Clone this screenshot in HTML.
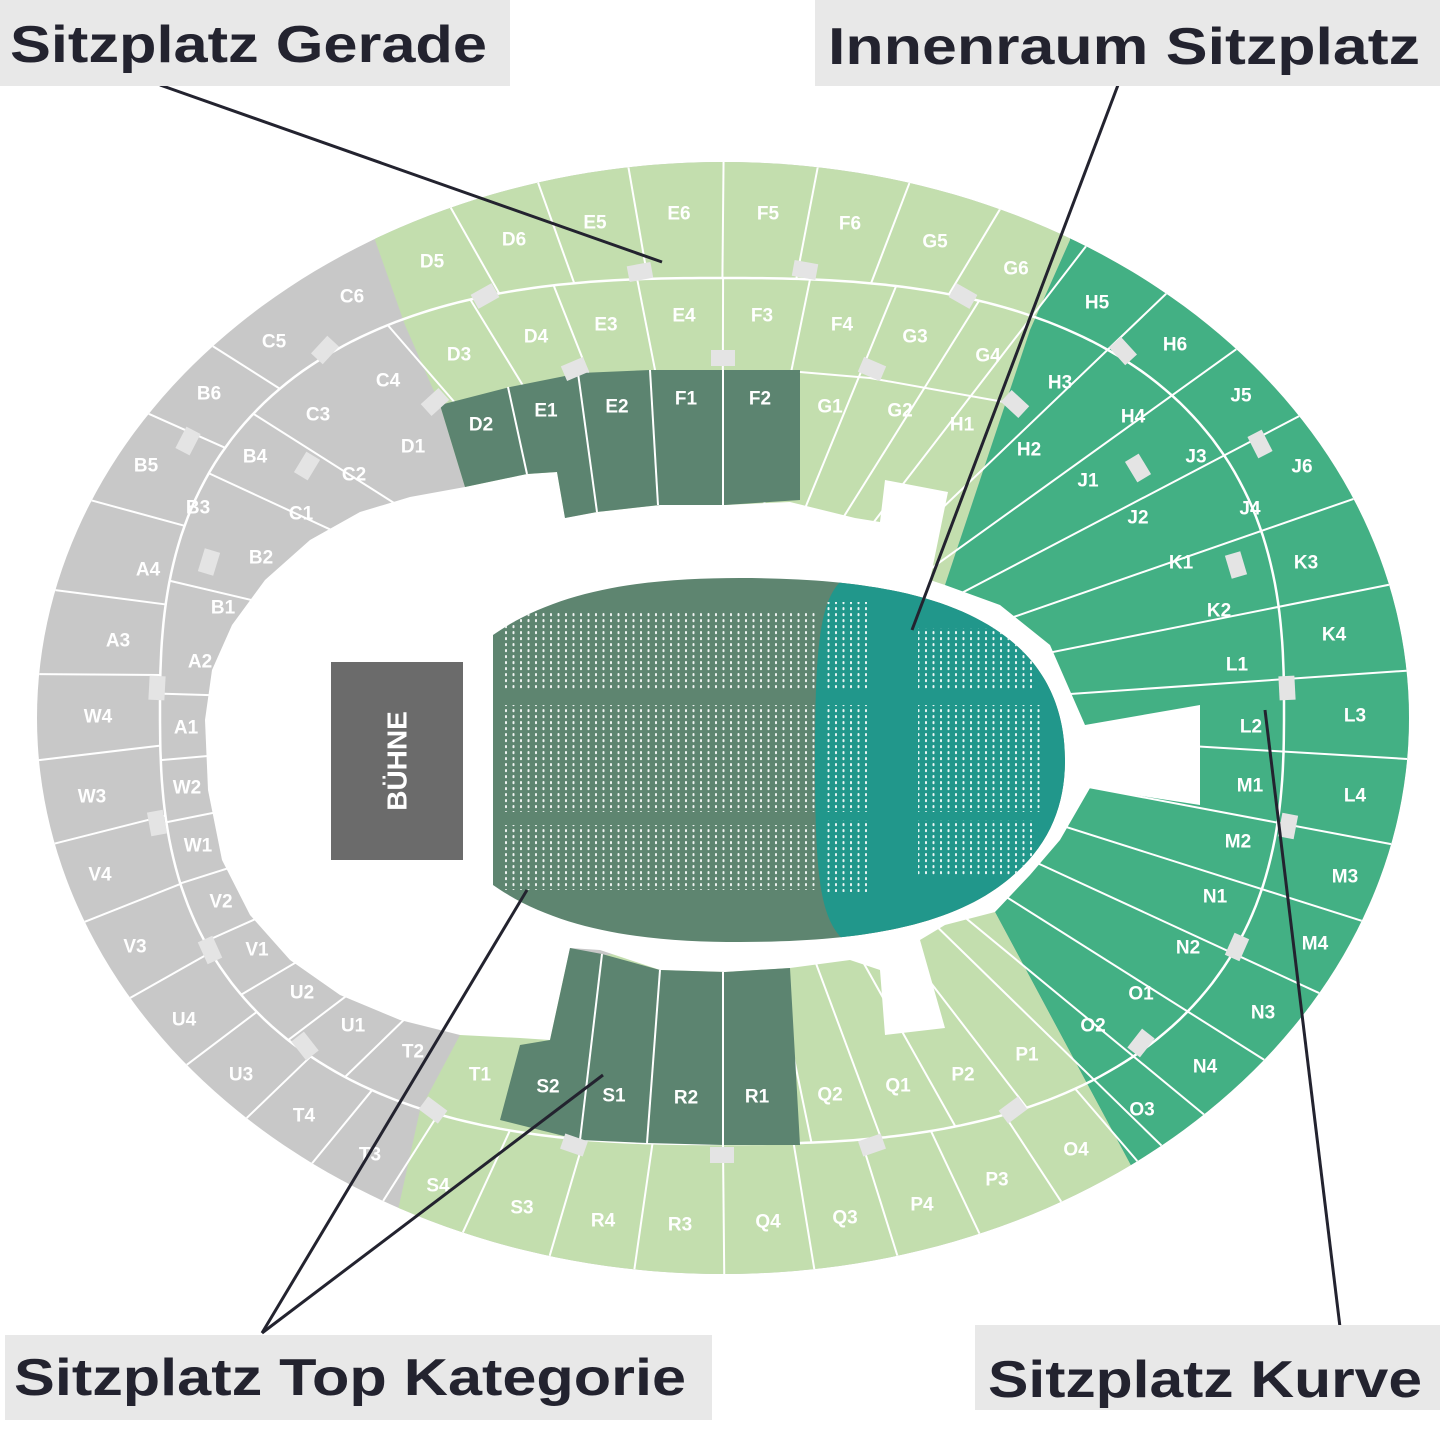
<!DOCTYPE html>
<html><head><meta charset="utf-8"><style>
html,body{margin:0;padding:0;background:#fff;width:1445px;height:1445px;overflow:hidden}
svg{display:block}
.l{font-family:"Liberation Sans",Arial,sans-serif;font-weight:bold;font-size:19px;fill:#fff;text-anchor:middle;dominant-baseline:central}
.t{font-family:"Liberation Sans",Arial,sans-serif;font-weight:bold;font-size:52px;fill:#23232f}
</style></head><body>
<svg id="s" xmlns="http://www.w3.org/2000/svg" width="1445" height="1445" viewBox="0 0 1445 1445">
<defs>
<pattern id="dots" width="7.5" height="6" patternUnits="userSpaceOnUse"><rect x="2.5" y="1" width="2" height="3.2" rx="1" fill="#fff"/></pattern>
<clipPath id="pc"><path d="M493,635 C560,588 650,578 740,578 C880,578 960,600 1010,640 C1050,672 1065,715 1065,760 C1065,805 1050,845 1010,878 C960,920 880,942 740,942 C650,942 560,932 493,885 Z"/></clipPath>
<clipPath id="oc"><ellipse cx="723" cy="718" rx="686" ry="556"/></clipPath>
</defs>
<g clip-path="url(#oc)">
<rect x="0" y="0" width="1445" height="1445" fill="#c8c8c8"/>
<polygon fill="#c3deae" points="375,240 375,0 1070,0 1070,240 1030,330 945,585 465,487 440,405 405,325"/>
<polygon fill="#43b084" points="1070,0 1500,0 1500,1500 1310,1500 1128,1160 995,912 945,585 1030,330 1070,240"/>
<polygon fill="#c3deae" points="1128,1160 995,912 560,960 460,1035 420,1110 398,1210 360,1500 1310,1500"/>
<g id="div"></g>
</g>
<polygon fill="#fff" points="205,720 212,670 232,625 265,580 310,540 360,512 410,497 465,487 527,474 557,472 565,518 597,512 660,505 725,505 790,502 855,518 880,522 885,480 948,492 930,580 945,585 1000,605 1050,645 1085,725 1200,705 1200,805 1090,788 1060,840 1030,875 995,912 945,925 920,940 945,1028 885,1035 880,970 850,960 790,968 725,972 660,970 600,950 570,948 550,1040 520,1038 460,1035 400,1020 340,995 290,960 250,915 222,860 208,790"/>
<polygon fill="#5c8470" points="440,405 510,387 580,373 650,370 800,370 800,500 725,505 660,505 597,512 565,518 557,472 527,474 465,487"/>
<g stroke="#fff" stroke-width="2">
<line x1="508" y1="387" x2="527" y2="474"/><line x1="578" y1="373" x2="597" y2="512"/><line x1="650" y1="370" x2="658" y2="505"/><line x1="723" y1="370" x2="723" y2="505"/>
</g>
<polygon fill="#5c8470" points="570,948 602,954 660,970 725,972 790,968 800,1145 723,1145 647,1143 580,1140 500,1120 520,1045 550,1040"/>
<g stroke="#fff" stroke-width="2">
<line x1="602" y1="954" x2="580" y2="1140"/><line x1="660" y1="970" x2="647" y2="1143"/><line x1="723" y1="972" x2="723" y2="1145"/>
<polyline fill="none" points="800,372 870,378 1015,404"/>
</g>
<g clip-path="url(#pc)">
<rect x="480" y="570" width="600" height="380" fill="#5e8570"/>
<path d="M850,575 C820,590 815,640 815,760 C815,880 820,925 850,945 L1100,945 L1100,575 Z" fill="#21978b"/>
<g fill="url(#dots)" opacity="0.9">
<rect x="500" y="612" width="315" height="78"/><rect x="500" y="705" width="315" height="107"/><rect x="500" y="825" width="315" height="65"/>
<rect x="822" y="602" width="48" height="88"/><rect x="822" y="705" width="48" height="107"/><rect x="822" y="820" width="48" height="72"/>
<rect x="918" y="628" width="115" height="62"/><rect x="918" y="705" width="125" height="107"/><rect x="918" y="820" width="115" height="55"/>
</g>
</g>
<rect x="331" y="662" width="132" height="198" fill="#6b6b6b"/>
<text x="397" y="761" transform="rotate(-90 397 761)" font-family="Liberation Sans, Arial, sans-serif" font-weight="bold" font-size="28" fill="#fff" text-anchor="middle" dominant-baseline="central">BÜHNE</text>
<g id="mk" fill="#e4e4e4"></g>
<g class="l">
<text x="432" y="262">D5</text><text x="514" y="240">D6</text><text x="595" y="223">E5</text><text x="679" y="214">E6</text><text x="768" y="214">F5</text><text x="850" y="224">F6</text><text x="935" y="242">G5</text><text x="1016" y="269">G6</text>
<text x="459" y="355">D3</text><text x="536" y="337">D4</text><text x="606" y="325">E3</text><text x="684" y="316">E4</text><text x="762" y="316">F3</text><text x="842" y="325">F4</text><text x="915" y="337">G3</text><text x="988" y="356">G4</text>
<text x="481" y="425">D2</text><text x="546" y="411">E1</text><text x="617" y="407">E2</text><text x="686" y="399">F1</text><text x="760" y="399">F2</text>
<text x="830" y="407">G1</text><text x="900" y="411">G2</text><text x="962" y="425">H1</text>
<text x="352" y="297">C6</text><text x="274" y="342">C5</text><text x="388" y="381">C4</text><text x="318" y="415">C3</text><text x="209" y="394">B6</text><text x="255" y="457">B4</text><text x="354" y="475">C2</text><text x="413" y="447">D1</text><text x="146" y="466">B5</text><text x="198" y="508">B3</text><text x="301" y="514">C1</text><text x="261" y="558">B2</text><text x="148" y="570">A4</text><text x="223" y="608">B1</text><text x="118" y="641">A3</text><text x="200" y="662">A2</text><text x="98" y="717">W4</text><text x="186" y="728">A1</text><text x="92" y="797">W3</text><text x="187" y="788">W2</text><text x="198" y="846">W1</text><text x="100" y="875">V4</text><text x="221" y="902">V2</text><text x="135" y="947">V3</text><text x="257" y="950">V1</text><text x="302" y="993">U2</text><text x="184" y="1020">U4</text><text x="353" y="1026">U1</text><text x="413" y="1052">T2</text><text x="241" y="1075">U3</text><text x="304" y="1116">T4</text><text x="370" y="1155">T3</text>
<text x="480" y="1075">T1</text><text x="438" y="1186">S4</text><text x="522" y="1208">S3</text><text x="603" y="1221">R4</text><text x="680" y="1225">R3</text><text x="768" y="1222">Q4</text><text x="845" y="1218">Q3</text><text x="922" y="1205">P4</text><text x="997" y="1180">P3</text><text x="1076" y="1150">O4</text><text x="830" y="1095">Q2</text><text x="898" y="1086">Q1</text><text x="963" y="1075">P2</text><text x="1027" y="1055">P1</text>
<text x="548" y="1087">S2</text><text x="614" y="1096">S1</text><text x="686" y="1098">R2</text><text x="757" y="1097">R1</text>
<text x="1097" y="303">H5</text><text x="1175" y="345">H6</text><text x="1060" y="383">H3</text><text x="1133" y="417">H4</text><text x="1241" y="396">J5</text><text x="1029" y="450">H2</text><text x="1196" y="457">J3</text><text x="1302" y="467">J6</text><text x="1088" y="481">J1</text><text x="1250" y="509">J4</text><text x="1138" y="518">J2</text><text x="1181" y="563">K1</text><text x="1306" y="563">K3</text><text x="1219" y="611">K2</text><text x="1334" y="635">K4</text><text x="1237" y="665">L1</text><text x="1355" y="716">L3</text><text x="1251" y="727">L2</text><text x="1250" y="786">M1</text><text x="1355" y="796">L4</text><text x="1238" y="842">M2</text><text x="1345" y="877">M3</text><text x="1215" y="897">N1</text><text x="1315" y="944">M4</text><text x="1188" y="948">N2</text><text x="1141" y="994">O1</text><text x="1263" y="1013">N3</text><text x="1093" y="1026">O2</text><text x="1205" y="1067">N4</text><text x="1142" y="1110">O3</text>
</g>
<g stroke="#23232f" stroke-width="3" fill="none">
<line x1="160" y1="85" x2="662" y2="262"/>
<line x1="1118" y1="85" x2="912" y2="630"/>
<line x1="262" y1="1333" x2="527" y2="890"/>
<line x1="262" y1="1333" x2="603" y2="1075"/>
<line x1="1340" y1="1327" x2="1265" y2="710"/>
</g>
<rect x="0" y="0" width="510" height="86" fill="#e8e8e8"/>
<text class="t" x="10" y="62" textLength="477" lengthAdjust="spacingAndGlyphs">Sitzplatz Gerade</text>
<rect x="815" y="0" width="625" height="86" fill="#e8e8e8"/>
<text class="t" x="828" y="64" textLength="592" lengthAdjust="spacingAndGlyphs">Innenraum Sitzplatz</text>
<rect x="5" y="1335" width="707" height="85" fill="#e8e8e8"/>
<text class="t" x="14" y="1395" textLength="672" lengthAdjust="spacingAndGlyphs">Sitzplatz Top Kategorie</text>
<rect x="975" y="1325" width="465" height="85" fill="#e8e8e8"/>
<text class="t" x="988" y="1397" textLength="434" lengthAdjust="spacingAndGlyphs">Sitzplatz Kurve</text>
</svg>
<script>
(function(){
var NS='http://www.w3.org/2000/svg';
function el(t,a,p){var e=document.createElementNS(NS,t);for(var k in a)e.setAttribute(k,a[k]);p.appendChild(e);return e;}
var O={cx:723,cy:718,rx:686,ry:556,n:2};
var M={cx:722,cy:711,rx:562,ry:433,n:2.6};
var R=Math.PI/180;
function pt(E,d){var c=Math.cos(d*R),s=Math.sin(d*R);var r=1/Math.pow(Math.pow(Math.abs(c/E.rx),E.n)+Math.pow(Math.abs(s/E.ry),E.n),1/E.n);return [E.cx+r*c,E.cy+r*s];}
function arc(E,a0,a1){var p=[],n=Math.max(4,Math.ceil(Math.abs(a1-a0)));for(var i=0;i<=n;i++)p.push(pt(E,a0+(a1-a0)*i/n));return p;}
var d=document.getElementById('div');
function ang(E,x,y){return Math.atan2(y-E.cy,x-E.cx)/R;}
function ln(a,b){el('line',{x1:a[0],y1:a[1],x2:b[0],y2:b[1],stroke:'#fff','stroke-width':2},d);}
var outer=[[432,262],[514,240],[595,223],[679,214],[768,214],[850,224],[935,242],[1016,269],[1097,303],[1175,345],[1241,396],[1302,467],[1306,563],[1334,635],[1355,716],[1355,796],[1345,877],[1315,944],[1263,1013],[1205,1067],[1142,1110],[1076,1150],[997,1180],[922,1205],[845,1218],[768,1222],[680,1225],[603,1221],[522,1208],[438,1186],[370,1155],[304,1116],[241,1075],[184,1020],[135,947],[100,875],[92,797],[98,717],[118,641],[148,570],[146,466],[209,394],[274,342],[352,297]];
var A=outer.map(function(q){var a=ang(O,q[0],q[1]);return a<-140?a+360:a;});
for(var i=0;i<A.length-1;i++){var m=(A[i]+A[i+1])/2;var p1=pt(O,m);
 var green=(m>-54&&m<45);
 ln(p1,green?[O.cx,O.cy]:pt(M,m));}
var inner=[[388,381],[459,355],[536,337],[606,325],[684,316],[762,316],[842,325],[915,337],[988,356]];
var IA=inner.map(function(q){return ang(M,q[0],q[1]);});
for(i=0;i<IA.length-1;i++){ln(pt(M,(IA[i]+IA[i+1])/2),[M.cx,M.cy]);}
var inb=[[830,1095],[898,1086],[963,1075],[1027,1055]];
var IB=inb.map(function(q){return ang(M,q[0],q[1]);});
[IB[0]+4,(IB[0]+IB[1])/2,(IB[1]+IB[2])/2,(IB[2]+IB[3])/2].forEach(function(v){ln(pt(M,v),[M.cx,M.cy]);});
var gi=[[318,415],[255,457],[198,508],[200,662],[186,728],[187,788],[198,846],[221,902],[257,950],[302,993],[353,1026],[413,1052]];
var GA=gi.map(function(q){var a=ang(M,q[0],q[1]);return a<0?a+360:a;}).sort(function(a,b){return a-b;});
for(i=0;i<GA.length-1;i++){ln(pt(M,(GA[i]+GA[i+1])/2),[M.cx,M.cy]);}
var mp=arc(M,0,360);
el('polygon',{points:mp.map(function(q){return q[0].toFixed(1)+','+q[1].toFixed(1)}).join(' '),fill:'none',stroke:'#fff','stroke-width':2.5},d);
var mk=document.getElementById('mk');
[[640,272],[805,270],[485,296],[575,369],[723,358],[872,369],[435,402],[963,296],[1015,404],[1123,351],[1260,444],[1138,468],[1236,565],[1287,688],[1288,826],[1237,947],[1141,1043],[1013,1110],[872,1145],[722,1155],[574,1145],[433,1110],[305,1046],[210,950],[157,823],[157,688],[209,562],[307,466],[188,441],[325,350]].forEach(function(q){
 var a=ang(O,q[0],q[1])+90;
 el('rect',{x:q[0]-12,y:q[1]-8,width:24,height:16,transform:'rotate('+a.toFixed(1)+' '+q[0]+' '+q[1]+')'},mk);});
})();
</script>
</body></html>
